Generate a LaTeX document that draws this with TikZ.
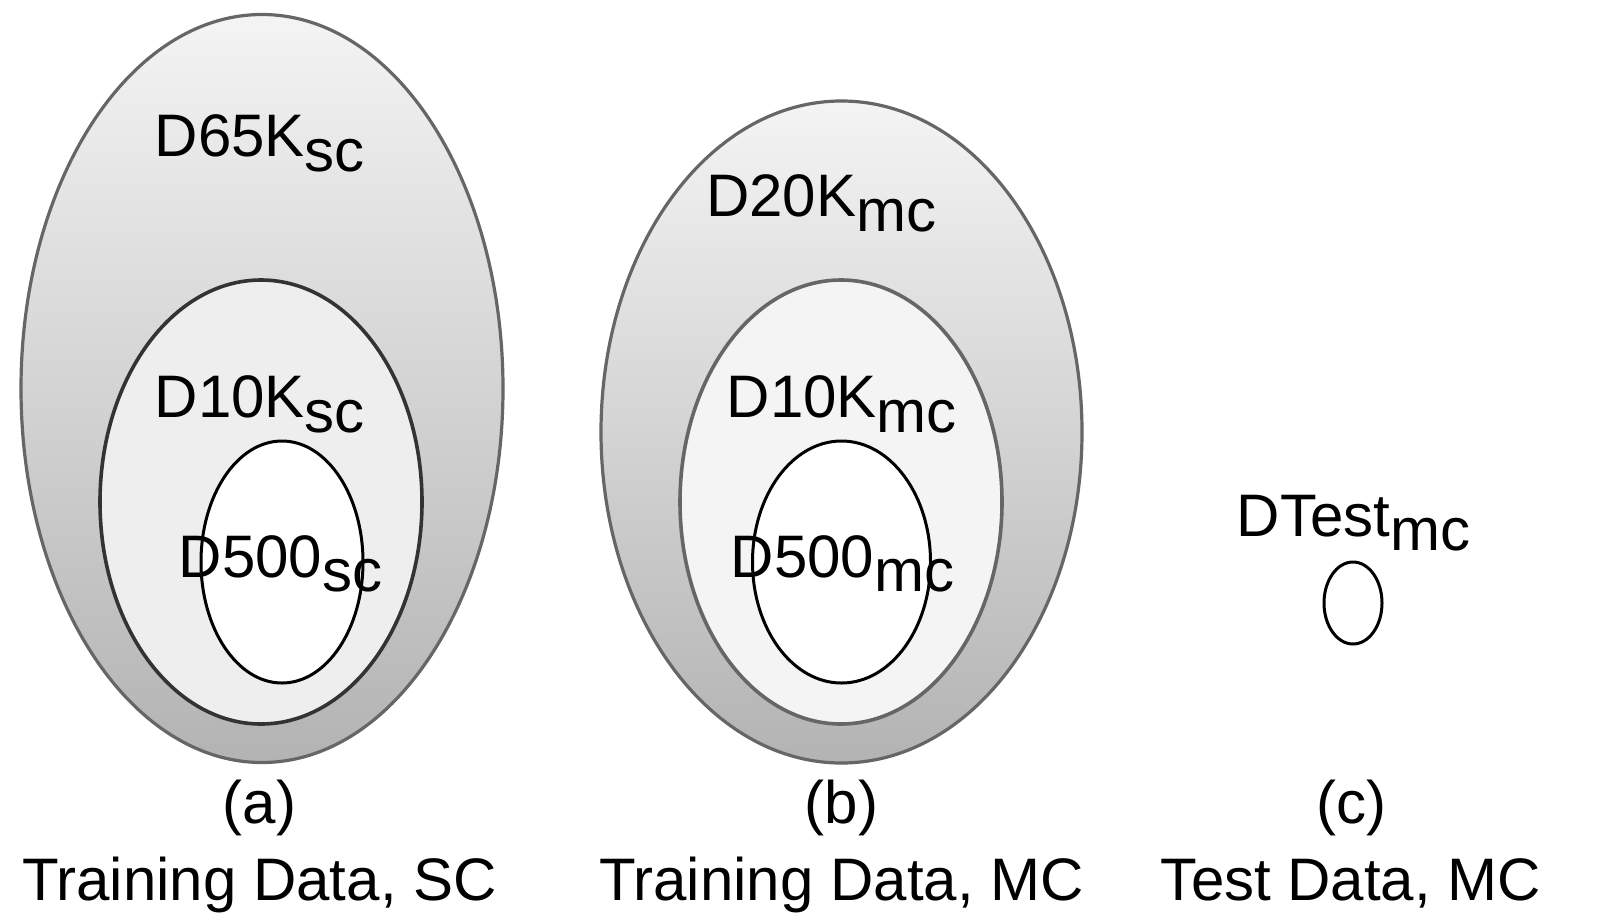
\documentclass[tikz,border=0pt]{standalone}
\usepackage{fontspec}
\setmainfont{Liberation Sans}
\definecolor{edgeg}{HTML}{666666}
\definecolor{edged}{HTML}{333333}
\definecolor{gtop}{HTML}{F4F4F4}
\definecolor{gbot}{HTML}{B3B3B3}
\definecolor{mida}{HTML}{EEEEEE}
\definecolor{midb}{HTML}{F4F4F4}
\newcommand\lsub[1]{\raisebox{-14.5pt}{#1}}
\begin{document}
\begin{tikzpicture}[x=1pt,y=-1pt,
  outerset/.style={draw=edgeg, line width=3.2pt, top color=gtop, bottom color=gbot},
  midset/.style={line width=3.6pt},
  innerset/.style={draw=black, fill=white, line width=3pt},
  lbl/.style={inner sep=0pt, font=\fontsize{60}{72}\selectfont}]
\useasboundingbox (0,0) rectangle (1616,916);
% (a)
\draw[outerset] (262,388.5) ellipse [x radius=241pt, y radius=374pt];
\draw[midset, draw=edged, fill=mida] (261,502) ellipse [x radius=161pt, y radius=222pt];
\draw[innerset] (282,562) ellipse [x radius=81pt, y radius=121pt];
% (b)
\draw[outerset] (841.5,432) ellipse [x radius=240.5pt, y radius=331pt];
\draw[midset, draw=edgeg, fill=midb] (841,502) ellipse [x radius=161pt, y radius=222pt];
\draw[innerset] (841.5,562) ellipse [x radius=89pt, y radius=121pt];
% (c)
\draw[innerset] (1353,603) ellipse [x radius=29pt, y radius=41pt];
% labels
\node[lbl, anchor=base west] (l65) at (154.5,156.5) {D65K\lsub{sc}};
\node[lbl, anchor=base west] (l10a) at (154.5,417.5) {D10K\lsub{sc}};
\node[lbl, anchor=base west] (l500a) at (178.5,577) {D500\lsub{sc}};
\node[lbl, anchor=base west] (l20) at (706,216.5) {D20K\lsub{mc}};
\node[lbl, anchor=base west] (l10b) at (726.5,417.5) {D10K\lsub{mc}};
\node[lbl, anchor=base west] (l500b) at (730.5,577) {D500\lsub{mc}};
\node[lbl, anchor=base west] (ltest) at (1236.5,536) {DTest\lsub{mc}};
% captions
\node[lbl, anchor=base] (ca) at (259.5,823.5) {(a)};
\node[lbl, anchor=base] (ta) at (259.5,900) {Training Data, SC};
\node[lbl, anchor=base] (cb) at (841.5,823.5) {(b)};
\node[lbl, anchor=base] (tb) at (841.5,900) {Training Data, MC};
\node[lbl, anchor=base] (cc) at (1351,823.5) {(c)};
\node[lbl, anchor=base] (tc) at (1351,900) {Test Data, MC};
\end{tikzpicture}
\end{document}
